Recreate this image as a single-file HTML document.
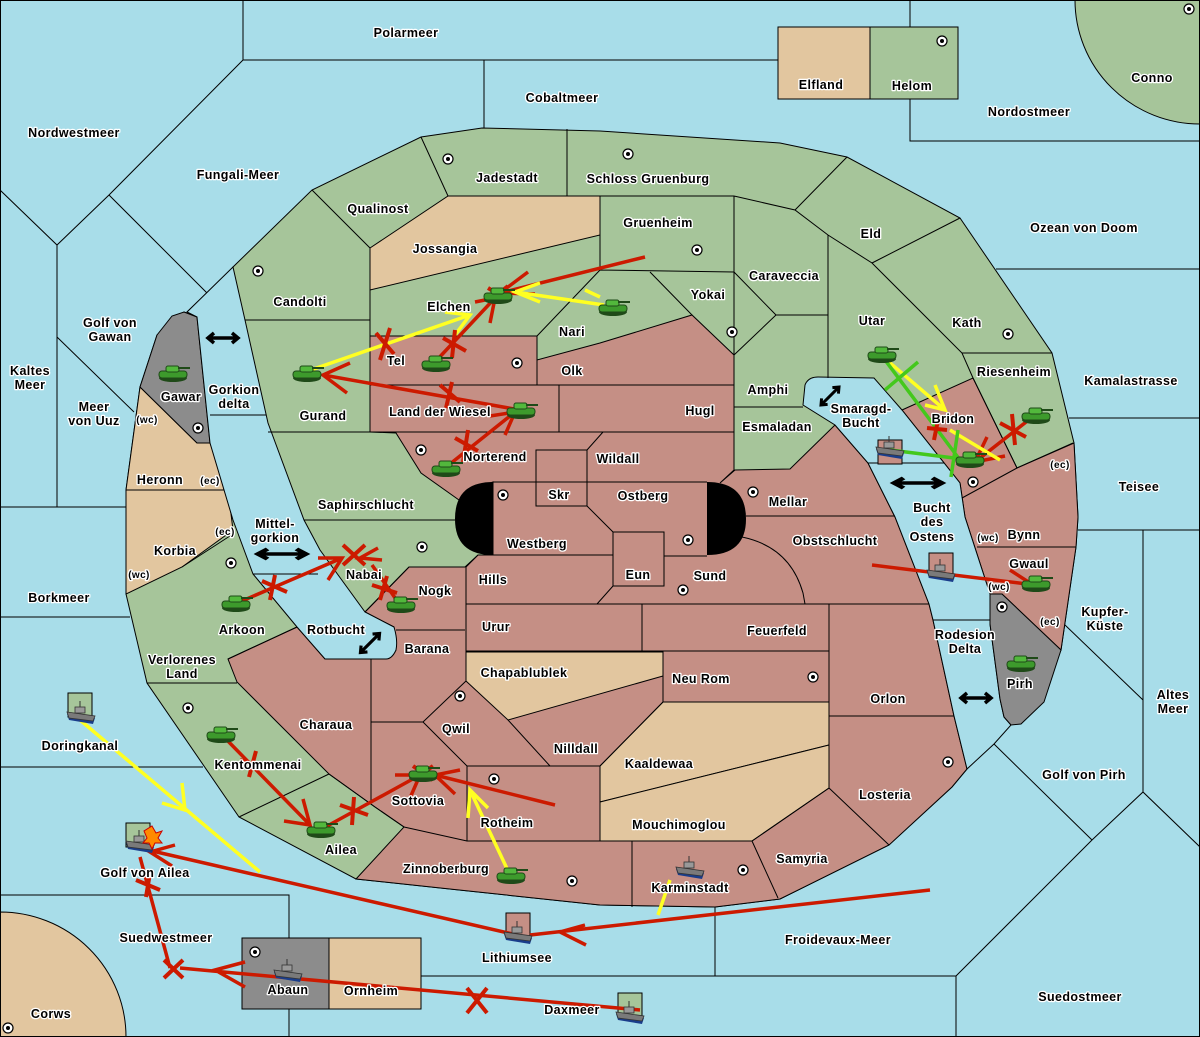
<!DOCTYPE html>
<html><head><meta charset="utf-8"><style>
html,body{margin:0;padding:0;background:#a8dde9;}
svg{display:block;}
text{font-family:"Liberation Sans",sans-serif;font-weight:bold;font-size:12.5px;fill:#000;stroke:#fff;stroke-width:2.6px;paint-order:stroke;stroke-linejoin:round;text-anchor:middle;letter-spacing:0.4px;}
.s{font-size:10px;}
</style></head><body>
<svg width="1200" height="1037" viewBox="0 0 1200 1037" xmlns="http://www.w3.org/2000/svg">
<defs>
<g id="tank">
<ellipse cx="0" cy="5" rx="14" ry="4" fill="#1f4a18"/>
<rect x="-14" y="-2" width="28" height="7" rx="3" fill="#3d9a2c" stroke="#1f4a18" stroke-width="1"/>
<rect x="-7" y="-7" width="13" height="6" rx="2" fill="#52b83c" stroke="#1f4a18" stroke-width="1"/>
<rect x="5" y="-6" width="12" height="2" fill="#1f4a18"/>
</g>
<g id="ship">
<path d="M-14,-2 L14,2 L12,8 L-12,4 Z" fill="#1a3d8a"/>
<path d="M-14,-4 L14,0 L12,5 L-12,2 Z" fill="#7a7a7a" stroke="#333" stroke-width="0.8"/>
<rect x="-6" y="-9" width="10" height="6" fill="#999" stroke="#333" stroke-width="0.8"/>
<line x1="-1" y1="-9" x2="-1" y2="-15" stroke="#333"/>
</g>
<g id="sc"><circle r="5" fill="#fff" stroke="#000" stroke-width="1.2"/><circle r="2" fill="#000"/></g>
<g id="dbl"><path d="M-14,0 H14 M-9,-5 L-15,0 L-9,5 M9,-5 L15,0 L9,5" stroke="#000" stroke-width="3.5" fill="none"/></g>
</defs>
<rect width="1200" height="1037" fill="#a8dde9"/>
<g fill="none" stroke="#000" stroke-width="1">
<path d="M243,0 V60 H778 M910,0 V27 M910,99 V141 H1200 M484,60 V128 M243,60 L109,195 L57,245 L0,190 M57,245 V507 M109,195 L207,293 L187,312 M57,337 L134,412 M0,507 H126 M0,617 H130 M0,767 H203 M0,895 H289 V938 M289,1009 V1037 M421,976 H956 V1037 M956,976 L1092,840 L1143,792 L1200,847 M1143,792 V530 M1078,530 H1200 M1092,840 L994,744 M1065,625 L1143,700 M715,907 V976 M996,269 H1200 M1069,418 H1200 M933,620 H990 M868,463 H944 M210,415 H266 M253,574 H318"/>
</g>
<path d="M1075,0 A125,124 0 0 0 1200,124 V0 Z" fill="#a6c59a" stroke="#000"/>
<path d="M0,912 A126,125 0 0 1 126,1037 H0 Z" fill="#e2c69f" stroke="#000"/>
<rect x="778" y="27" width="92" height="72" fill="#e2c69f" stroke="#000"/>
<rect x="870" y="27" width="88" height="72" fill="#a6c59a" stroke="#000"/>
<rect x="242" y="938" width="87" height="71" fill="#8c8c8c" stroke="#000"/>
<rect x="329" y="938" width="92" height="71" fill="#e2c69f" stroke="#000"/>
<path d="M233,267 L312,190 L421,137 L482,128 L600,131 L780,143 L847,157 L960,218 L1052,353 L1074,443 L1078,517 L1076,547 L1061,650 L990,600 L967,769 L952,787 L889,845 L780,899 L715,907 L600,905 L356,879 L239,817 L147,683 L126,594 L126,490 L140,387 L157,335 L184,312 L197,317 Z" fill="#a6c59a" stroke="#000"/>
<path d="M370,336 L537,336 L537,360 L600,343 L692,315 L734,355 L734,470 L720,483 L735,470 L790,469 L835,425 L868,463 L895,517 L929,604 L933,620 L954,716 L967,769 L952,787 L889,845 L780,899 L715,907 L600,905 L356,879 L404,827 L375,807 L329,774 L237,682 L228,659 L297,627 L325,659 L386,659 L396,650 L394,627 L365,612 L409,567 L465,567 L478,555 L493,555 L493,482 L470,490 L459,500 L421,473 L396,433 L370,432 Z" fill="#c58f85" stroke="#000"/>
<path d="M902,410 L973,378 L1017,468 L1074,443 L1078,517 L1076,547 L1061,650 L1002,594 L990,594 L965,517 L960,483 Z" fill="#c58f85" stroke="#000"/>
<path d="M370,248 L448,196 L600,196 L600,235 L370,290 Z" fill="#e2c69f" stroke="#000"/>
<path d="M140,387 L197,443 L210,443 L228,490 L126,490 Z" fill="#e2c69f" stroke="#000"/>
<path d="M126,490 L228,490 L233,530 L182,567 L126,594 Z" fill="#e2c69f" stroke="#000"/>
<path d="M466,652 L663,652 L663,676 L508,720 L466,681 Z" fill="#e2c69f" stroke="#000"/>
<path d="M600,766 L663,702 L829,702 L829,745 L600,802 Z" fill="#e2c69f" stroke="#000"/>
<path d="M600,802 L829,745 L829,788 L752,841 L600,841 Z" fill="#e2c69f" stroke="#000"/>
<path d="M157,335 L172,316 L184,312 L197,317 L210,443 L197,443 L140,387 Z" fill="#8c8c8c" stroke="#000"/>
<path d="M187,312 L233,267 L245,320 L268,423 L304,520 L320,550 L365,612 L394,627 Q398,640 396,650 Q392,659 386,659 L325,659 L297,627 L253,574 L233,520 L210,443 L197,317 Z" fill="#a8dde9" stroke="#000"/>
<path d="M803,405 L805,385 Q808,377 818,377 L874,378 L902,410 L960,483 L965,517 L990,594 L990,624 L1000,699 L1004,717 L1011,725 L994,744 L967,769 L954,716 L933,620 L929,604 L895,517 L868,463 L835,425 Z" fill="#a8dde9" stroke="#000"/>
<path d="M990,594 L1002,594 L1061,650 L1044,702 L1021,724 L1011,725 L1004,717 L1000,699 L990,624 Z" fill="#8c8c8c" stroke="#000"/>
<path d="M210,415 H266 M253,574 H318 M868,463 H944 M933,620 H990" stroke="#000" fill="none"/>
<path d="M493,482 L493,555 Q455,555 455,519 Q455,482 493,482 Z" fill="#000"/>
<path d="M707,482 L707,555 Q746,555 746,519 Q746,482 707,482 Z" fill="#000"/>
<g fill="none" stroke="#000" stroke-width="1">
<path d="M312,190 L370,248 M421,137 L448,196 M370,248 V432 M245,320 H370 M268,432 H396 M567,129 V196 M448,196 H734 M600,196 V270 L734,272 M537,336 L600,270 M734,196 V355 M734,196 L795,210 L828,235 L872,263 L962,353 L973,378 M795,210 L847,157 M872,263 L960,218 M962,353 H1052 M973,378 L1017,468 L1073,443 M962,498 L1017,468 M977,547 H1076 M828,235 V378 M650,272 L692,315 M734,272 L776,315 L734,355 M776,315 H828 M734,407 H803"/>
<path d="M370,385 H734 M537,336 V385 M559,385 V432 M370,432 H734 M587,450 L603,432 M536,450 H587 V506 H536 Z M493,482 H707 M493,555 H613 M587,506 L613,532 M613,532 H664 V586 H613 Z M664,556 H707 M466,567 L478,555 M466,567 V681 M466,604 H805 M597,604 L613,586 M742,537 Q790,547 803,593 L805,604 M746,516 H895 M805,604 H929 M642,604 V651 M466,651 H829 M829,604 V788 M663,651 V702 H829 M829,716 H954 M829,788 L889,845 M752,841 L829,788 M752,841 L778,898 M600,841 H752 M632,841 V907 M467,766 H600 V841 H467 Z M404,827 L467,841 M371,659 V804 M375,807 L404,827 M371,722 H423 L466,681 M423,722 L467,766 M508,720 L550,766 M600,766 L663,702 M409,567 H465 M396,630 H465 M409,567 L365,612 M304,520 H455 M182,567 L233,534 M228,659 L297,627 M147,683 H237 M239,817 L329,774 M329,774 L375,807"/>
</g>
<g>
<use href="#sc" x="448" y="159"/><use href="#sc" x="628" y="154"/><use href="#sc" x="942" y="41"/><use href="#sc" x="1189" y="9"/>
<use href="#sc" x="258" y="271"/><use href="#sc" x="697" y="250"/><use href="#sc" x="517" y="363"/><use href="#sc" x="732" y="332"/>
<use href="#sc" x="1008" y="334"/><use href="#sc" x="198" y="428"/><use href="#sc" x="421" y="450"/><use href="#sc" x="503" y="495"/>
<use href="#sc" x="753" y="492"/><use href="#sc" x="688" y="540"/><use href="#sc" x="683" y="590"/><use href="#sc" x="973" y="482"/>
<use href="#sc" x="422" y="547"/><use href="#sc" x="231" y="563"/><use href="#sc" x="1002" y="607"/><use href="#sc" x="813" y="677"/>
<use href="#sc" x="460" y="696"/><use href="#sc" x="188" y="708"/><use href="#sc" x="948" y="762"/><use href="#sc" x="494" y="779"/>
<use href="#sc" x="572" y="881"/><use href="#sc" x="743" y="870"/><use href="#sc" x="255" y="952"/><use href="#sc" x="8" y="1028"/>
</g>
<use href="#dbl" transform="translate(223,338)"/>
<use href="#dbl" transform="translate(282,554) scale(1.6,1)"/>
<use href="#dbl" transform="translate(370,643) rotate(-45) scale(0.9)"/>
<use href="#dbl" transform="translate(830,396) rotate(-45) scale(0.85)"/>
<use href="#dbl" transform="translate(918,483) scale(1.6,1)"/>
<use href="#dbl" transform="translate(976,698)"/>
<rect x="68" y="693" width="24" height="24" fill="#a6c59a" stroke="#000"/>
<rect x="126" y="823" width="24" height="24" fill="#a6c59a" stroke="#000"/>
<rect x="506" y="913" width="24" height="24" fill="#c58f85" stroke="#000"/>
<rect x="618" y="993" width="24" height="24" fill="#a6c59a" stroke="#000"/>
<rect x="878" y="440" width="24" height="24" fill="#c58f85" stroke="#000"/>
<rect x="929" y="553" width="24" height="24" fill="#c58f85" stroke="#000"/>
<g fill="none" stroke-width="3.5" stroke-linecap="butt">
<g stroke="#cc1a00">
<path d="M645,257 L500,293 M528,272 L500,293 L535,294"/>
<path d="M435,362 L495,298 M475,302 L495,298 L490,323"/>
<path d="M520,410 L323,375 M350,363 L323,375 L347,393"/>
<path d="M445,468 L515,412 M490,416 L515,412 L505,435"/>
<path d="M1035,415 L975,462 M987,437 L975,462 L1005,456"/>
<path d="M872,565 L1035,585 M1010,570 L1030,583"/>
<path d="M235,604 L342,558 M318,558 L342,558 L328,580"/>
<path d="M400,605 L372,565 M382,560 L360,558 L378,548"/>
<path d="M222,735 L310,825 M284,821 L310,825 L303,799"/>
<path d="M320,830 L420,775 M395,775 L420,775 L410,798"/>
<path d="M555,805 L435,775 M460,770 L435,775 L455,794"/>
<path d="M517,935 L148,850 M175,845 L150,852 L172,866"/>
<path d="M930,890 L530,935 M585,925 L560,932 L586,945"/>
<path d="M140,857 L170,968"/>
<path d="M640,1010 L180,968 M245,962 L215,970 L245,987"/>
</g>
<g stroke="#ffff22">
<path d="M604,305 L515,292 M540,283 L515,292 L540,302 M585,290 L600,297"/>
<path d="M305,372 L470,315 M445,312 L470,315 L455,335"/>
<path d="M882,356 L945,410 M935,385 L945,410 L925,405"/>
<path d="M950,430 L1000,460"/>
<path d="M80,720 L260,872 M182,783 L185,810 L162,803"/>
<path d="M510,875 L470,790 M468,818 L470,790 L488,808"/>
<path d="M670,880 L658,915"/>
</g>
<g stroke="#44c81c">
<path d="M882,356 L960,460 M890,450 L970,460 M885,390 L918,362 M958,430 L951,477"/>
</g>
<g stroke="#cc1a00" stroke-width="4">
<path d="M376,333 L394,354 M390,328 L380,360"/>
<path d="M443,338 L466,351 M455,330 L452,358"/>
<path d="M440,385 L460,402 M452,382 L446,408"/>
<path d="M455,438 L478,451 M468,430 L463,462"/>
<path d="M262,581 L287,592 M275,575 L270,600"/>
<path d="M372,585 L397,593 M387,576 L380,600"/>
<path d="M240,760 L263,768 M256,751 L249,777"/>
<path d="M340,805 L368,815 M354,797 L352,825"/>
<path d="M136,880 L160,890 M150,873 L146,897"/>
<path d="M164,960 L183,978 M183,960 L164,978"/>
<path d="M467,988 L487,1013 M487,988 L467,1013"/>
<path d="M343,545 L365,565 M365,545 L343,565"/>
<path d="M1000,423 L1026,437 M1012,414 L1015,445"/>
<path d="M927,428 L947,430 M938,420 L934,440"/>
<path d="M488,288 L508,300 M508,286 L488,302"/>
<path d="M413,766 L433,780 M433,766 L413,780"/>
</g>
</g>
<use href="#tank" x="173" y="373"/><use href="#tank" x="307" y="373"/><use href="#tank" x="436" y="363"/>
<use href="#tank" x="498" y="295"/><use href="#tank" x="613" y="307"/><use href="#tank" x="521" y="410"/>
<use href="#tank" x="446" y="468"/><use href="#tank" x="882" y="354"/><use href="#tank" x="1036" y="415"/>
<use href="#tank" x="970" y="459"/><use href="#tank" x="1036" y="583"/><use href="#tank" x="1021" y="663"/>
<use href="#tank" x="236" y="603"/><use href="#tank" x="401" y="604"/><use href="#tank" x="221" y="734"/>
<use href="#tank" x="321" y="829"/><use href="#tank" x="423" y="773"/><use href="#tank" x="511" y="875"/>
<use href="#ship" x="81" y="716"/><use href="#ship" x="140" y="845"/><use href="#ship" x="518" y="936"/>
<use href="#ship" x="630" y="1016"/><use href="#ship" x="890" y="451"/><use href="#ship" x="941" y="574"/>
<use href="#ship" x="690" y="871"/><use href="#ship" x="288" y="974"/>
<path d="M152,826 L156,833 L162,831 L158,838 L162,843 L155,843 L152,849 L149,843 L143,843 L147,838 L144,831 Z" fill="#ff8a00" stroke="#c00"/>
<g>
<text x="406" y="37">Polarmeer</text><text x="562" y="102">Cobaltmeer</text>
<text x="821" y="89">Elfland</text><text x="912" y="90">Helom</text><text x="1152" y="82">Conno</text>
<text x="74" y="137">Nordwestmeer</text><text x="238" y="179">Fungali-Meer</text><text x="1029" y="116">Nordostmeer</text>
<text x="507" y="182">Jadestadt</text><text x="648" y="183">Schloss Gruenburg</text><text x="378" y="213">Qualinost</text>
<text x="658" y="227">Gruenheim</text><text x="871" y="238">Eld</text><text x="1084" y="232">Ozean von Doom</text>
<text x="445" y="253">Jossangia</text><text x="784" y="280">Caraveccia</text><text x="300" y="306">Candolti</text>
<text x="708" y="299">Yokai</text><text x="449" y="311">Elchen</text><text x="110" y="327">Golf von</text><text x="110" y="341">Gawan</text>
<text x="872" y="325">Utar</text><text x="967" y="327">Kath</text><text x="572" y="336">Nari</text><text x="396" y="365">Tel</text>
<text x="30" y="375">Kaltes</text><text x="30" y="389">Meer</text><text x="572" y="375">Olk</text><text x="1014" y="376">Riesenheim</text>
<text x="1131" y="385">Kamalastrasse</text><text x="181" y="401">Gawar</text><text x="234" y="394">Gorkion</text><text x="234" y="408">delta</text>
<text x="768" y="394">Amphi</text><text x="94" y="411">Meer</text><text x="94" y="425">von Uuz</text><text class="s" x="147" y="423">(wc)</text>
<text x="440" y="416">Land der Wiesel</text><text x="323" y="420">Gurand</text><text x="700" y="415">Hugl</text>
<text x="861" y="413">Smaragd-</text><text x="861" y="427">Bucht</text><text x="953" y="423">Bridon</text><text x="777" y="431">Esmaladan</text>
<text x="160" y="484">Heronn</text><text class="s" x="210" y="484">(ec)</text><text x="495" y="461">Norterend</text><text x="618" y="463">Wildall</text>
<text class="s" x="1060" y="468">(ec)</text><text x="1139" y="491">Teisee</text><text x="559" y="499">Skr</text><text x="643" y="500">Ostberg</text>
<text x="788" y="506">Mellar</text><text x="366" y="509">Saphirschlucht</text>
<text x="932" y="512">Bucht</text><text x="932" y="526">des</text><text x="932" y="541">Ostens</text>
<text x="275" y="528">Mittel-</text><text x="275" y="542">gorkion</text><text class="s" x="225" y="535">(ec)</text>
<text x="1024" y="539">Bynn</text><text class="s" x="988" y="541">(wc)</text><text x="537" y="548">Westberg</text><text x="835" y="545">Obstschlucht</text>
<text x="175" y="555">Korbia</text><text x="364" y="579">Nabai</text><text class="s" x="139" y="578">(wc)</text><text x="1029" y="568">Gwaul</text>
<text x="638" y="579">Eun</text><text x="710" y="580">Sund</text><text x="493" y="584">Hills</text><text class="s" x="999" y="590">(wc)</text>
<text x="435" y="595">Nogk</text><text x="59" y="602">Borkmeer</text><text x="1105" y="616">Kupfer-</text><text x="1105" y="630">Küste</text>
<text x="496" y="631">Urur</text><text x="777" y="635">Feuerfeld</text><text x="242" y="634">Arkoon</text><text x="336" y="634">Rotbucht</text>
<text class="s" x="1050" y="625">(ec)</text><text x="965" y="639">Rodesion</text><text x="965" y="653">Delta</text><text x="427" y="653">Barana</text>
<text x="182" y="664">Verlorenes</text><text x="182" y="678">Land</text><text x="524" y="677">Chapablublek</text><text x="701" y="683">Neu Rom</text>
<text x="1020" y="688">Pirh</text><text x="888" y="703">Orlon</text><text x="1173" y="699">Altes</text><text x="1173" y="713">Meer</text>
<text x="456" y="733">Qwil</text><text x="326" y="729">Charaua</text><text x="80" y="750">Doringkanal</text><text x="576" y="753">Nilldall</text>
<text x="659" y="768">Kaaldewaa</text><text x="258" y="769">Kentommenai</text><text x="1084" y="779">Golf von Pirh</text><text x="885" y="799">Losteria</text>
<text x="418" y="805">Sottovia</text><text x="507" y="827">Rotheim</text><text x="679" y="829">Mouchimoglou</text><text x="341" y="854">Ailea</text>
<text x="802" y="863">Samyria</text><text x="446" y="873">Zinnoberburg</text><text x="145" y="877">Golf von Ailea</text><text x="690" y="892">Karminstadt</text>
<text x="166" y="942">Suedwestmeer</text><text x="838" y="944">Froidevaux-Meer</text><text x="517" y="962">Lithiumsee</text>
<text x="288" y="994">Abaun</text><text x="371" y="995">Ornheim</text><text x="1080" y="1001">Suedostmeer</text><text x="572" y="1014">Daxmeer</text><text x="51" y="1018">Corws</text>
</g>
<rect x="0.5" y="0.5" width="1199" height="1036" fill="none" stroke="#000"/>
</svg>
</body></html>
